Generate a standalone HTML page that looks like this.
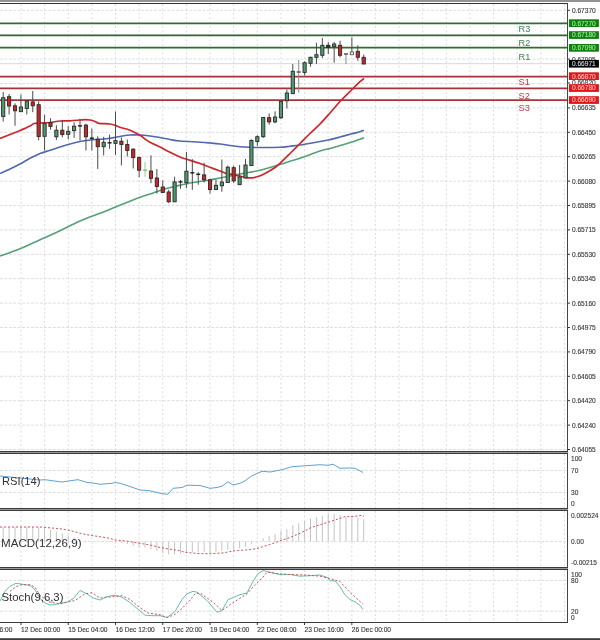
<!DOCTYPE html><html><head><meta charset="utf-8"><style>html,body{margin:0;padding:0;background:#fff;width:600px;height:640px;overflow:hidden}svg{display:block;will-change:transform;filter:blur(0.3px)}text{font-family:"Liberation Sans",sans-serif}</style></head><body>
<svg width="600" height="640" viewBox="0 0 600 640">
<rect x="0" y="0" width="600" height="640" fill="#fff"/>
<rect x="0" y="0" width="600" height="2" fill="#949494"/>
<rect x="0" y="3" width="568" height="1" fill="#333"/>
<g stroke="#dcdcdc" stroke-width="1" stroke-dasharray="2,2.4"><line x1="21.00" y1="4" x2="21.00" y2="451"/><line x1="21.00" y1="454" x2="21.00" y2="508"/><line x1="21.00" y1="511" x2="21.00" y2="567"/><line x1="21.00" y1="570" x2="21.00" y2="622"/><line x1="44.63" y1="4" x2="44.63" y2="451"/><line x1="44.63" y1="454" x2="44.63" y2="508"/><line x1="44.63" y1="511" x2="44.63" y2="567"/><line x1="44.63" y1="570" x2="44.63" y2="622"/><line x1="68.26" y1="4" x2="68.26" y2="451"/><line x1="68.26" y1="454" x2="68.26" y2="508"/><line x1="68.26" y1="511" x2="68.26" y2="567"/><line x1="68.26" y1="570" x2="68.26" y2="622"/><line x1="91.89" y1="4" x2="91.89" y2="451"/><line x1="91.89" y1="454" x2="91.89" y2="508"/><line x1="91.89" y1="511" x2="91.89" y2="567"/><line x1="91.89" y1="570" x2="91.89" y2="622"/><line x1="115.52" y1="4" x2="115.52" y2="451"/><line x1="115.52" y1="454" x2="115.52" y2="508"/><line x1="115.52" y1="511" x2="115.52" y2="567"/><line x1="115.52" y1="570" x2="115.52" y2="622"/><line x1="139.15" y1="4" x2="139.15" y2="451"/><line x1="139.15" y1="454" x2="139.15" y2="508"/><line x1="139.15" y1="511" x2="139.15" y2="567"/><line x1="139.15" y1="570" x2="139.15" y2="622"/><line x1="162.78" y1="4" x2="162.78" y2="451"/><line x1="162.78" y1="454" x2="162.78" y2="508"/><line x1="162.78" y1="511" x2="162.78" y2="567"/><line x1="162.78" y1="570" x2="162.78" y2="622"/><line x1="186.41" y1="4" x2="186.41" y2="451"/><line x1="186.41" y1="454" x2="186.41" y2="508"/><line x1="186.41" y1="511" x2="186.41" y2="567"/><line x1="186.41" y1="570" x2="186.41" y2="622"/><line x1="210.04" y1="4" x2="210.04" y2="451"/><line x1="210.04" y1="454" x2="210.04" y2="508"/><line x1="210.04" y1="511" x2="210.04" y2="567"/><line x1="210.04" y1="570" x2="210.04" y2="622"/><line x1="233.67" y1="4" x2="233.67" y2="451"/><line x1="233.67" y1="454" x2="233.67" y2="508"/><line x1="233.67" y1="511" x2="233.67" y2="567"/><line x1="233.67" y1="570" x2="233.67" y2="622"/><line x1="257.30" y1="4" x2="257.30" y2="451"/><line x1="257.30" y1="454" x2="257.30" y2="508"/><line x1="257.30" y1="511" x2="257.30" y2="567"/><line x1="257.30" y1="570" x2="257.30" y2="622"/><line x1="280.93" y1="4" x2="280.93" y2="451"/><line x1="280.93" y1="454" x2="280.93" y2="508"/><line x1="280.93" y1="511" x2="280.93" y2="567"/><line x1="280.93" y1="570" x2="280.93" y2="622"/><line x1="304.56" y1="4" x2="304.56" y2="451"/><line x1="304.56" y1="454" x2="304.56" y2="508"/><line x1="304.56" y1="511" x2="304.56" y2="567"/><line x1="304.56" y1="570" x2="304.56" y2="622"/><line x1="328.19" y1="4" x2="328.19" y2="451"/><line x1="328.19" y1="454" x2="328.19" y2="508"/><line x1="328.19" y1="511" x2="328.19" y2="567"/><line x1="328.19" y1="570" x2="328.19" y2="622"/><line x1="351.82" y1="4" x2="351.82" y2="451"/><line x1="351.82" y1="454" x2="351.82" y2="508"/><line x1="351.82" y1="511" x2="351.82" y2="567"/><line x1="351.82" y1="570" x2="351.82" y2="622"/><line x1="375.45" y1="4" x2="375.45" y2="451"/><line x1="375.45" y1="454" x2="375.45" y2="508"/><line x1="375.45" y1="511" x2="375.45" y2="567"/><line x1="375.45" y1="570" x2="375.45" y2="622"/><line x1="399.08" y1="4" x2="399.08" y2="451"/><line x1="399.08" y1="454" x2="399.08" y2="508"/><line x1="399.08" y1="511" x2="399.08" y2="567"/><line x1="399.08" y1="570" x2="399.08" y2="622"/><line x1="422.71" y1="4" x2="422.71" y2="451"/><line x1="422.71" y1="454" x2="422.71" y2="508"/><line x1="422.71" y1="511" x2="422.71" y2="567"/><line x1="422.71" y1="570" x2="422.71" y2="622"/><line x1="446.34" y1="4" x2="446.34" y2="451"/><line x1="446.34" y1="454" x2="446.34" y2="508"/><line x1="446.34" y1="511" x2="446.34" y2="567"/><line x1="446.34" y1="570" x2="446.34" y2="622"/><line x1="469.97" y1="4" x2="469.97" y2="451"/><line x1="469.97" y1="454" x2="469.97" y2="508"/><line x1="469.97" y1="511" x2="469.97" y2="567"/><line x1="469.97" y1="570" x2="469.97" y2="622"/><line x1="493.60" y1="4" x2="493.60" y2="451"/><line x1="493.60" y1="454" x2="493.60" y2="508"/><line x1="493.60" y1="511" x2="493.60" y2="567"/><line x1="493.60" y1="570" x2="493.60" y2="622"/><line x1="517.23" y1="4" x2="517.23" y2="451"/><line x1="517.23" y1="454" x2="517.23" y2="508"/><line x1="517.23" y1="511" x2="517.23" y2="567"/><line x1="517.23" y1="570" x2="517.23" y2="622"/><line x1="540.86" y1="4" x2="540.86" y2="451"/><line x1="540.86" y1="454" x2="540.86" y2="508"/><line x1="540.86" y1="511" x2="540.86" y2="567"/><line x1="540.86" y1="570" x2="540.86" y2="622"/><line x1="564.49" y1="4" x2="564.49" y2="451"/><line x1="564.49" y1="454" x2="564.49" y2="508"/><line x1="564.49" y1="511" x2="564.49" y2="567"/><line x1="564.49" y1="570" x2="564.49" y2="622"/></g>
<g stroke="#dedede" stroke-width="1" stroke-dasharray="3,1.4"><line x1="0" y1="10.30" x2="567" y2="10.30"/><line x1="0" y1="34.70" x2="567" y2="34.70"/><line x1="0" y1="59.10" x2="567" y2="59.10"/><line x1="0" y1="83.50" x2="567" y2="83.50"/><line x1="0" y1="107.90" x2="567" y2="107.90"/><line x1="0" y1="132.30" x2="567" y2="132.30"/><line x1="0" y1="156.70" x2="567" y2="156.70"/><line x1="0" y1="181.10" x2="567" y2="181.10"/><line x1="0" y1="205.50" x2="567" y2="205.50"/><line x1="0" y1="229.90" x2="567" y2="229.90"/><line x1="0" y1="254.30" x2="567" y2="254.30"/><line x1="0" y1="278.70" x2="567" y2="278.70"/><line x1="0" y1="303.10" x2="567" y2="303.10"/><line x1="0" y1="327.50" x2="567" y2="327.50"/><line x1="0" y1="351.90" x2="567" y2="351.90"/><line x1="0" y1="376.30" x2="567" y2="376.30"/><line x1="0" y1="400.70" x2="567" y2="400.70"/><line x1="0" y1="425.10" x2="567" y2="425.10"/><line x1="0" y1="449.50" x2="567" y2="449.50"/><line x1="0" y1="470.5" x2="567" y2="470.5"/><line x1="0" y1="492.5" x2="567" y2="492.5"/><line x1="0" y1="541.6" x2="567" y2="541.6"/><line x1="0" y1="580.5" x2="567" y2="580.5"/><line x1="0" y1="611.2" x2="567" y2="611.2"/></g>
<line x1="0" y1="63.7" x2="567" y2="63.7" stroke="#d8d8d8" stroke-width="1"/>
<line x1="0" y1="23.4" x2="567" y2="23.4" stroke="#2e6e2e" stroke-width="1.8"/>
<line x1="0" y1="35.3" x2="567" y2="35.3" stroke="#2e6e2e" stroke-width="1.8"/>
<line x1="0" y1="47.6" x2="567" y2="47.6" stroke="#2e6e2e" stroke-width="1.8"/>
<line x1="0" y1="76.7" x2="567" y2="76.7" stroke="#a8323a" stroke-width="1.8"/>
<line x1="0" y1="88.3" x2="567" y2="88.3" stroke="#a8323a" stroke-width="1.8"/>
<line x1="0" y1="100.2" x2="567" y2="100.2" stroke="#a8323a" stroke-width="1.8"/>
<path fill="none" stroke="#55a077" stroke-width="1.6" d="M0.00,256.00 C3.33,254.78 12.67,251.70 20.00,248.70 C27.33,245.70 37.33,241.00 44.00,238.00 C50.67,235.00 54.00,233.53 60.00,230.70 C66.00,227.87 73.33,223.90 80.00,221.00 C86.67,218.10 94.17,215.58 100.00,213.30 C105.83,211.02 108.33,209.97 115.00,207.30 C121.67,204.63 134.17,199.52 140.00,197.30 C145.83,195.08 146.17,195.30 150.00,194.00 C153.83,192.70 158.50,190.83 163.00,189.50 C167.50,188.17 172.50,187.08 177.00,186.00 C181.50,184.92 186.17,183.75 190.00,183.00 C193.83,182.25 196.67,182.00 200.00,181.50 C203.33,181.00 206.67,180.58 210.00,180.00 C213.33,179.42 216.67,178.67 220.00,178.00 C223.33,177.33 226.67,176.67 230.00,176.00 C233.33,175.33 236.67,174.63 240.00,174.00 C243.33,173.37 246.67,172.83 250.00,172.20 C253.33,171.57 256.67,170.98 260.00,170.20 C263.33,169.42 266.67,168.45 270.00,167.50 C273.33,166.55 276.67,165.55 280.00,164.50 C283.33,163.45 286.67,162.23 290.00,161.20 C293.33,160.17 295.00,160.00 300.00,158.30 C305.00,156.60 315.00,152.63 320.00,151.00 C325.00,149.37 326.67,149.43 330.00,148.50 C333.33,147.57 336.33,146.47 340.00,145.40 C343.67,144.33 348.67,143.13 352.00,142.10 C355.33,141.07 358.00,139.90 360.00,139.20 C362.00,138.50 363.33,138.12 364.00,137.90"/>
<path fill="none" stroke="#4f68b0" stroke-width="1.6" d="M0.00,173.50 C1.67,172.75 6.67,170.58 10.00,169.00 C13.33,167.42 16.67,165.78 20.00,164.00 C23.33,162.22 26.67,160.05 30.00,158.30 C33.33,156.55 36.67,154.83 40.00,153.50 C43.33,152.17 46.67,151.38 50.00,150.30 C53.33,149.22 56.67,148.05 60.00,147.00 C63.33,145.95 66.67,144.92 70.00,144.00 C73.33,143.08 76.67,142.17 80.00,141.50 C83.33,140.83 86.67,140.37 90.00,140.00 C93.33,139.63 96.67,139.58 100.00,139.30 C103.33,139.02 106.67,138.77 110.00,138.30 C113.33,137.83 116.67,137.05 120.00,136.50 C123.33,135.95 126.67,135.25 130.00,135.00 C133.33,134.75 136.67,134.83 140.00,135.00 C143.33,135.17 146.67,135.58 150.00,136.00 C153.33,136.42 156.67,136.92 160.00,137.50 C163.33,138.08 166.67,138.92 170.00,139.50 C173.33,140.08 175.00,140.55 180.00,141.00 C185.00,141.45 195.00,141.87 200.00,142.20 C205.00,142.53 206.67,142.70 210.00,143.00 C213.33,143.30 216.67,143.58 220.00,144.00 C223.33,144.42 226.67,145.05 230.00,145.50 C233.33,145.95 236.67,146.40 240.00,146.70 C243.33,147.00 246.67,147.17 250.00,147.30 C253.33,147.43 255.00,147.50 260.00,147.50 C265.00,147.50 275.00,147.52 280.00,147.30 C285.00,147.08 286.67,146.58 290.00,146.20 C293.33,145.82 295.00,145.78 300.00,145.00 C305.00,144.22 315.33,142.33 320.00,141.50 C324.67,140.67 324.67,140.75 328.00,140.00 C331.33,139.25 336.00,138.03 340.00,137.00 C344.00,135.97 348.67,134.68 352.00,133.80 C355.33,132.92 358.00,132.27 360.00,131.70 C362.00,131.13 363.33,130.62 364.00,130.40"/>
<path fill="none" stroke="#cc262c" stroke-width="1.7" d="M0.00,138.50 C1.67,137.83 6.67,135.83 10.00,134.50 C13.33,133.17 16.67,131.92 20.00,130.50 C23.33,129.08 27.67,127.17 30.00,126.00 C32.33,124.83 32.33,124.00 34.00,123.50 C35.67,123.00 37.33,123.17 40.00,123.00 C42.67,122.83 46.67,122.83 50.00,122.50 C53.33,122.17 56.67,121.28 60.00,121.00 C63.33,120.72 66.67,120.97 70.00,120.80 C73.33,120.63 77.50,120.20 80.00,120.00 C82.50,119.80 83.33,119.60 85.00,119.60 C86.67,119.60 88.33,119.68 90.00,120.00 C91.67,120.32 93.50,120.95 95.00,121.50 C96.50,122.05 96.50,122.88 99.00,123.30 C101.50,123.72 107.33,123.67 110.00,124.00 C112.67,124.33 113.33,124.75 115.00,125.30 C116.67,125.85 117.50,126.48 120.00,127.30 C122.50,128.12 126.67,128.87 130.00,130.20 C133.33,131.53 137.50,133.83 140.00,135.30 C142.50,136.77 143.33,137.83 145.00,139.00 C146.67,140.17 147.50,140.97 150.00,142.30 C152.50,143.63 156.67,145.33 160.00,147.00 C163.33,148.67 166.67,150.63 170.00,152.30 C173.33,153.97 177.33,155.88 180.00,157.00 C182.67,158.12 182.67,157.92 186.00,159.00 C189.33,160.08 196.00,162.12 200.00,163.50 C204.00,164.88 206.67,166.05 210.00,167.30 C213.33,168.55 217.50,170.05 220.00,171.00 C222.50,171.95 223.00,172.43 225.00,173.00 C227.00,173.57 229.50,173.87 232.00,174.40 C234.50,174.93 237.50,175.65 240.00,176.20 C242.50,176.75 245.00,177.43 247.00,177.70 C249.00,177.97 250.17,178.00 252.00,177.80 C253.83,177.60 255.83,177.22 258.00,176.50 C260.17,175.78 262.17,175.00 265.00,173.50 C267.83,172.00 272.50,169.20 275.00,167.50 C277.50,165.80 277.50,165.63 280.00,163.30 C282.50,160.97 286.67,156.80 290.00,153.50 C293.33,150.20 296.67,146.83 300.00,143.50 C303.33,140.17 306.67,136.75 310.00,133.50 C313.33,130.25 316.67,127.42 320.00,124.00 C323.33,120.58 326.67,116.75 330.00,113.00 C333.33,109.25 336.33,105.42 340.00,101.50 C343.67,97.58 348.67,92.80 352.00,89.50 C355.33,86.20 358.00,83.53 360.00,81.70 C362.00,79.87 363.33,79.03 364.00,78.50"/>
<g><line x1="3.20" y1="92" x2="3.20" y2="121.5" stroke="#4a4a4a" stroke-width="1"/><rect x="1.60" y="97.7" width="3.2" height="18.70" fill="#4e9a6e" stroke="#2a2a2a" stroke-width="0.9"/><line x1="9.11" y1="93.9" x2="9.11" y2="114.5" stroke="#4a4a4a" stroke-width="1"/><rect x="7.51" y="96.7" width="3.2" height="9.30" fill="#cc2424" stroke="#2a2a2a" stroke-width="0.9"/><line x1="15.02" y1="103.3" x2="15.02" y2="125.8" stroke="#4a4a4a" stroke-width="1"/><rect x="13.42" y="105.8" width="3.2" height="5.00" fill="#cc2424" stroke="#2a2a2a" stroke-width="0.9"/><line x1="20.93" y1="94.4" x2="20.93" y2="111.7" stroke="#4a4a4a" stroke-width="1"/><rect x="19.33" y="107" width="3.2" height="4.70" fill="#4e9a6e" stroke="#2a2a2a" stroke-width="0.9"/><line x1="26.84" y1="100.5" x2="26.84" y2="114.5" stroke="#4a4a4a" stroke-width="1"/><rect x="25.24" y="101" width="3.2" height="7.40" fill="#4e9a6e" stroke="#2a2a2a" stroke-width="0.9"/><line x1="32.75" y1="91" x2="32.75" y2="112.2" stroke="#4a4a4a" stroke-width="1"/><rect x="31.15" y="101.9" width="3.2" height="3.90" fill="#cc2424" stroke="#2a2a2a" stroke-width="0.9"/><line x1="38.66" y1="101.4" x2="38.66" y2="140.3" stroke="#4a4a4a" stroke-width="1"/><rect x="37.06" y="104.7" width="3.2" height="31.80" fill="#cc2424" stroke="#2a2a2a" stroke-width="0.9"/><line x1="44.57" y1="114.9" x2="44.57" y2="150.5" stroke="#4a4a4a" stroke-width="1"/><rect x="42.97" y="123.7" width="3.2" height="12.60" fill="#4e9a6e" stroke="#2a2a2a" stroke-width="0.9"/><line x1="50.48" y1="118.2" x2="50.48" y2="129.7" stroke="#4a4a4a" stroke-width="1"/><rect x="48.88" y="122.6" width="3.2" height="3.80" fill="#cc2424" stroke="#2a2a2a" stroke-width="0.9"/><line x1="56.39" y1="125.3" x2="56.39" y2="140" stroke="#4a4a4a" stroke-width="1"/><rect x="54.79" y="130.2" width="3.2" height="6.60" fill="#4e9a6e" stroke="#2a2a2a" stroke-width="0.9"/><line x1="62.30" y1="119.8" x2="62.30" y2="137.4" stroke="#4a4a4a" stroke-width="1"/><rect x="60.70" y="130.2" width="3.2" height="4.40" fill="#cc2424" stroke="#2a2a2a" stroke-width="0.9"/><line x1="68.21" y1="125.9" x2="68.21" y2="139.5" stroke="#4a4a4a" stroke-width="1"/><rect x="66.61" y="131.3" width="3.2" height="3.00" fill="#4e9a6e" stroke="#2a2a2a" stroke-width="0.9"/><line x1="74.12" y1="122.3" x2="74.12" y2="137.9" stroke="#4a4a4a" stroke-width="1"/><rect x="72.52" y="126.2" width="3.2" height="4.40" fill="#4e9a6e" stroke="#2a2a2a" stroke-width="0.9"/><line x1="80.03" y1="118.75" x2="80.03" y2="140.6" stroke="#4a4a4a" stroke-width="1"/><line x1="78.03" y1="125.9" x2="82.03" y2="125.9" stroke="#222" stroke-width="1.5"/><line x1="85.94" y1="123.7" x2="85.94" y2="150.5" stroke="#4a4a4a" stroke-width="1"/><rect x="84.34" y="125.1" width="3.2" height="11.70" fill="#cc2424" stroke="#2a2a2a" stroke-width="0.9"/><line x1="91.85" y1="128.6" x2="91.85" y2="150.5" stroke="#4a4a4a" stroke-width="1"/><line x1="89.85" y1="138.2" x2="93.85" y2="138.2" stroke="#222" stroke-width="1.5"/><line x1="97.76" y1="136.3" x2="97.76" y2="169" stroke="#4a4a4a" stroke-width="1"/><rect x="96.16" y="139.2" width="3.2" height="7.50" fill="#cc2424" stroke="#2a2a2a" stroke-width="0.9"/><line x1="103.67" y1="136.8" x2="103.67" y2="155.4" stroke="#4a4a4a" stroke-width="1"/><rect x="102.07" y="142.3" width="3.2" height="4.40" fill="#4e9a6e" stroke="#2a2a2a" stroke-width="0.9"/><line x1="109.58" y1="134.6" x2="109.58" y2="148.8" stroke="#4a4a4a" stroke-width="1"/><line x1="107.58" y1="142.8" x2="111.58" y2="142.8" stroke="#222" stroke-width="1.5"/><line x1="115.49" y1="111.6" x2="115.49" y2="154.9" stroke="#4a4a4a" stroke-width="1"/><rect x="113.89" y="140.6" width="3.2" height="2.80" fill="#4e9a6e" stroke="#2a2a2a" stroke-width="0.9"/><line x1="121.40" y1="137.4" x2="121.40" y2="165.3" stroke="#4a4a4a" stroke-width="1"/><rect x="119.80" y="141.2" width="3.2" height="3.30" fill="#cc2424" stroke="#2a2a2a" stroke-width="0.9"/><line x1="127.31" y1="139.5" x2="127.31" y2="156.5" stroke="#4a4a4a" stroke-width="1"/><rect x="125.71" y="144.5" width="3.2" height="6.00" fill="#cc2424" stroke="#2a2a2a" stroke-width="0.9"/><line x1="133.22" y1="148.3" x2="133.22" y2="168.5" stroke="#4a4a4a" stroke-width="1"/><rect x="131.62" y="149.2" width="3.2" height="8.40" fill="#cc2424" stroke="#2a2a2a" stroke-width="0.9"/><line x1="139.13" y1="156.5" x2="139.13" y2="177.3" stroke="#4a4a4a" stroke-width="1"/><rect x="137.53" y="157.6" width="3.2" height="12.60" fill="#cc2424" stroke="#2a2a2a" stroke-width="0.9"/><line x1="145.04" y1="162" x2="145.04" y2="176.7" stroke="#8ad08a" stroke-width="1"/><line x1="143.04" y1="170.2" x2="147.04" y2="170.2" stroke="#7acc7a" stroke-width="1.5"/><line x1="150.95" y1="155.3" x2="150.95" y2="183.2" stroke="#4a4a4a" stroke-width="1"/><rect x="149.35" y="171" width="3.2" height="7.30" fill="#cc2424" stroke="#2a2a2a" stroke-width="0.9"/><line x1="156.86" y1="169" x2="156.86" y2="193.6" stroke="#4a4a4a" stroke-width="1"/><rect x="155.26" y="178" width="3.2" height="8.50" fill="#cc2424" stroke="#2a2a2a" stroke-width="0.9"/><line x1="162.77" y1="180.3" x2="162.77" y2="192.5" stroke="#4a4a4a" stroke-width="1"/><rect x="161.17" y="187" width="3.2" height="5.50" fill="#cc2424" stroke="#2a2a2a" stroke-width="0.9"/><line x1="168.68" y1="189.8" x2="168.68" y2="202.9" stroke="#4a4a4a" stroke-width="1"/><rect x="167.08" y="192" width="3.2" height="9.80" fill="#cc2424" stroke="#2a2a2a" stroke-width="0.9"/><line x1="174.59" y1="176.7" x2="174.59" y2="201.8" stroke="#4a4a4a" stroke-width="1"/><rect x="172.99" y="181.9" width="3.2" height="19.90" fill="#4e9a6e" stroke="#2a2a2a" stroke-width="0.9"/><line x1="180.50" y1="180" x2="180.50" y2="188.7" stroke="#4a4a4a" stroke-width="1"/><line x1="178.50" y1="181.9" x2="182.50" y2="181.9" stroke="#222" stroke-width="1.5"/><line x1="186.41" y1="152" x2="186.41" y2="188.1" stroke="#4a4a4a" stroke-width="1"/><rect x="184.81" y="171.2" width="3.2" height="11.50" fill="#4e9a6e" stroke="#2a2a2a" stroke-width="0.9"/><line x1="192.32" y1="159.1" x2="192.32" y2="189.8" stroke="#4a4a4a" stroke-width="1"/><line x1="190.32" y1="172.8" x2="194.32" y2="172.8" stroke="#222" stroke-width="1.5"/><line x1="198.23" y1="172.1" x2="198.23" y2="184.7" stroke="#4a4a4a" stroke-width="1"/><line x1="196.23" y1="174.3" x2="200.23" y2="174.3" stroke="#222" stroke-width="1.5"/><line x1="204.14" y1="162.8" x2="204.14" y2="182.5" stroke="#4a4a4a" stroke-width="1"/><rect x="202.54" y="174.9" width="3.2" height="4.90" fill="#cc2424" stroke="#2a2a2a" stroke-width="0.9"/><line x1="210.05" y1="178.7" x2="210.05" y2="193.5" stroke="#4a4a4a" stroke-width="1"/><rect x="208.45" y="179.8" width="3.2" height="9.80" fill="#cc2424" stroke="#2a2a2a" stroke-width="0.9"/><line x1="215.96" y1="179.8" x2="215.96" y2="189.6" stroke="#4a4a4a" stroke-width="1"/><rect x="214.36" y="185.3" width="3.2" height="4.30" fill="#4e9a6e" stroke="#2a2a2a" stroke-width="0.9"/><line x1="221.87" y1="159.5" x2="221.87" y2="191.8" stroke="#4a4a4a" stroke-width="1"/><rect x="220.27" y="182" width="3.2" height="3.80" fill="#4e9a6e" stroke="#2a2a2a" stroke-width="0.9"/><line x1="227.78" y1="165.6" x2="227.78" y2="182.5" stroke="#4a4a4a" stroke-width="1"/><rect x="226.18" y="167.2" width="3.2" height="15.30" fill="#4e9a6e" stroke="#2a2a2a" stroke-width="0.9"/><line x1="233.69" y1="165.6" x2="233.69" y2="183" stroke="#4a4a4a" stroke-width="1"/><rect x="232.09" y="167.7" width="3.2" height="13.20" fill="#cc2424" stroke="#2a2a2a" stroke-width="0.9"/><line x1="239.60" y1="165" x2="239.60" y2="184.7" stroke="#4a4a4a" stroke-width="1"/><rect x="238.00" y="177" width="3.2" height="7.70" fill="#4e9a6e" stroke="#2a2a2a" stroke-width="0.9"/><line x1="245.51" y1="159" x2="245.51" y2="178" stroke="#4a4a4a" stroke-width="1"/><rect x="243.91" y="165" width="3.2" height="13.00" fill="#4e9a6e" stroke="#2a2a2a" stroke-width="0.9"/><line x1="251.42" y1="139.3" x2="251.42" y2="165.6" stroke="#4a4a4a" stroke-width="1"/><rect x="249.82" y="140.4" width="3.2" height="25.20" fill="#4e9a6e" stroke="#2a2a2a" stroke-width="0.9"/><line x1="257.33" y1="135.2" x2="257.33" y2="145.8" stroke="#4a4a4a" stroke-width="1"/><rect x="255.73" y="136.7" width="3.2" height="4.90" fill="#4e9a6e" stroke="#2a2a2a" stroke-width="0.9"/><line x1="263.24" y1="117" x2="263.24" y2="138" stroke="#4a4a4a" stroke-width="1"/><rect x="261.64" y="117.4" width="3.2" height="19.30" fill="#4e9a6e" stroke="#2a2a2a" stroke-width="0.9"/><line x1="269.15" y1="113.4" x2="269.15" y2="124.7" stroke="#4a4a4a" stroke-width="1"/><rect x="267.55" y="117.7" width="3.2" height="4.20" fill="#cc2424" stroke="#2a2a2a" stroke-width="0.9"/><line x1="275.06" y1="111.3" x2="275.06" y2="123.3" stroke="#4a4a4a" stroke-width="1"/><rect x="273.46" y="117" width="3.2" height="4.90" fill="#4e9a6e" stroke="#2a2a2a" stroke-width="0.9"/><line x1="280.97" y1="100.8" x2="280.97" y2="119" stroke="#4a4a4a" stroke-width="1"/><rect x="279.37" y="101.2" width="3.2" height="16.50" fill="#4e9a6e" stroke="#2a2a2a" stroke-width="0.9"/><line x1="286.88" y1="89.5" x2="286.88" y2="108.5" stroke="#4a4a4a" stroke-width="1"/><rect x="285.28" y="93" width="3.2" height="7.80" fill="#4e9a6e" stroke="#2a2a2a" stroke-width="0.9"/><line x1="292.79" y1="64" x2="292.79" y2="93.8" stroke="#4a4a4a" stroke-width="1"/><rect x="291.19" y="71.3" width="3.2" height="22.40" fill="#4e9a6e" stroke="#2a2a2a" stroke-width="0.9"/><line x1="298.70" y1="60" x2="298.70" y2="92.7" stroke="#8a8a8a" stroke-width="1"/><line x1="296.70" y1="72" x2="300.70" y2="72" stroke="#555" stroke-width="1.5"/><line x1="304.61" y1="61.3" x2="304.61" y2="75.3" stroke="#4a4a4a" stroke-width="1"/><rect x="303.01" y="62.7" width="3.2" height="9.70" fill="#4e9a6e" stroke="#2a2a2a" stroke-width="0.9"/><line x1="310.52" y1="56.7" x2="310.52" y2="66.7" stroke="#4a4a4a" stroke-width="1"/><rect x="308.92" y="57.3" width="3.2" height="6.00" fill="#4e9a6e" stroke="#2a2a2a" stroke-width="0.9"/><line x1="316.43" y1="42.7" x2="316.43" y2="64" stroke="#4a4a4a" stroke-width="1"/><rect x="314.83" y="54.7" width="3.2" height="2.60" fill="#4e9a6e" stroke="#2a2a2a" stroke-width="0.9"/><line x1="322.34" y1="38" x2="322.34" y2="58" stroke="#4a4a4a" stroke-width="1"/><rect x="320.74" y="45.3" width="3.2" height="10.00" fill="#4e9a6e" stroke="#2a2a2a" stroke-width="0.9"/><line x1="328.25" y1="42" x2="328.25" y2="54" stroke="#4a4a4a" stroke-width="1"/><rect x="326.65" y="45.3" width="3.2" height="2.00" fill="#333" stroke="#222" stroke-width="0.9"/><line x1="334.16" y1="42" x2="334.16" y2="62.7" stroke="#4a4a4a" stroke-width="1"/><rect x="332.56" y="44" width="3.2" height="2.70" fill="#4e9a6e" stroke="#2a2a2a" stroke-width="0.9"/><line x1="340.07" y1="40.7" x2="340.07" y2="57.3" stroke="#4a4a4a" stroke-width="1"/><rect x="338.47" y="45.3" width="3.2" height="10.00" fill="#cc2424" stroke="#2a2a2a" stroke-width="0.9"/><line x1="345.98" y1="53.3" x2="345.98" y2="64" stroke="#8a8a8a" stroke-width="1"/><line x1="343.98" y1="54" x2="347.98" y2="54" stroke="#555" stroke-width="1.5"/><line x1="351.89" y1="37.3" x2="351.89" y2="54.7" stroke="#4a4a4a" stroke-width="1"/><rect x="350.29" y="52" width="3.2" height="2.70" fill="#fff" stroke="#555" stroke-width="0.9"/><line x1="357.80" y1="45.3" x2="357.80" y2="60.7" stroke="#4a4a4a" stroke-width="1"/><rect x="356.20" y="51.3" width="3.2" height="6.00" fill="#cc2424" stroke="#2a2a2a" stroke-width="0.9"/><line x1="363.71" y1="54.7" x2="363.71" y2="64" stroke="#4a4a4a" stroke-width="1"/><rect x="362.11" y="57.3" width="3.2" height="6.70" fill="#cc2424" stroke="#2a2a2a" stroke-width="0.9"/></g>
<line x1="567.5" y1="3" x2="567.5" y2="452" stroke="#444" stroke-width="1"/>
<rect x="0" y="451" width="568" height="3" fill="#9a9a9a"/>
<rect x="0" y="508" width="568" height="3" fill="#9a9a9a"/>
<rect x="0" y="567" width="568" height="3" fill="#9a9a9a"/>
<line x1="0" y1="451.5" x2="568" y2="451.5" stroke="#3a3a3a" stroke-width="1"/>
<line x1="0" y1="453.5" x2="568" y2="453.5" stroke="#3a3a3a" stroke-width="1"/>
<line x1="0" y1="508.5" x2="568" y2="508.5" stroke="#3a3a3a" stroke-width="1"/>
<line x1="0" y1="510.5" x2="568" y2="510.5" stroke="#3a3a3a" stroke-width="1"/>
<line x1="0" y1="567.5" x2="568" y2="567.5" stroke="#3a3a3a" stroke-width="1"/>
<line x1="0" y1="569.5" x2="568" y2="569.5" stroke="#3a3a3a" stroke-width="1"/>
<line x1="0" y1="622.5" x2="568" y2="622.5" stroke="#3a3a3a" stroke-width="1"/>
<line x1="567.5" y1="453.5" x2="567.5" y2="508.5" stroke="#444" stroke-width="1"/>
<line x1="567.5" y1="510.5" x2="567.5" y2="567.5" stroke="#444" stroke-width="1"/>
<line x1="567.5" y1="569.5" x2="567.5" y2="622.5" stroke="#444" stroke-width="1"/>
<polyline fill="none" stroke="#5fa3cf" stroke-width="1" points="0.0,476.0 40.0,480.0 45.0,479.7 53.0,480.8 62.0,482.0 70.0,480.8 78.0,479.7 87.0,482.5 95.0,483.3 100.0,484.3 112.0,483.3 115.0,482.5 120.0,483.3 130.0,486.5 140.0,490.0 150.0,490.8 162.0,493.7 168.0,494.2 173.0,488.3 182.0,487.5 187.0,485.2 200.0,485.5 210.0,488.3 217.0,487.5 222.0,486.2 228.0,481.7 233.0,485.0 240.0,483.3 245.0,480.8 252.0,475.8 262.0,471.3 270.0,472.0 282.0,469.7 292.0,466.7 305.0,465.8 320.0,464.7 328.0,465.3 333.0,464.2 340.0,468.3 350.0,468.0 355.0,468.3 363.0,472.5"/>
<g stroke="#c4c4c4" stroke-width="1"><line x1="3.20" y1="541.5" x2="3.20" y2="527.00"/><line x1="9.11" y1="541.5" x2="9.11" y2="527.00"/><line x1="15.02" y1="541.5" x2="15.02" y2="527.00"/><line x1="20.93" y1="541.5" x2="20.93" y2="527.00"/><line x1="26.84" y1="541.5" x2="26.84" y2="527.00"/><line x1="32.75" y1="541.5" x2="32.75" y2="527.00"/><line x1="38.66" y1="541.5" x2="38.66" y2="527.00"/><line x1="44.57" y1="541.5" x2="44.57" y2="527.00"/><line x1="50.48" y1="541.5" x2="50.48" y2="529.74"/><line x1="56.39" y1="541.5" x2="56.39" y2="531.80"/><line x1="62.30" y1="541.5" x2="62.30" y2="533.33"/><line x1="68.21" y1="541.5" x2="68.21" y2="535.36"/><line x1="74.12" y1="541.5" x2="74.12" y2="537.44"/><line x1="80.03" y1="541.5" x2="80.03" y2="539.51"/><line x1="85.94" y1="541.5" x2="85.94" y2="540.57"/><line x1="91.85" y1="541.5" x2="91.85" y2="541.34"/><line x1="97.76" y1="541.5" x2="97.76" y2="541.46"/><line x1="103.67" y1="541.5" x2="103.67" y2="541.57"/><line x1="109.58" y1="541.5" x2="109.58" y2="542.01"/><line x1="115.49" y1="541.5" x2="115.49" y2="542.54"/><line x1="121.40" y1="541.5" x2="121.40" y2="543.07"/><line x1="127.31" y1="541.5" x2="127.31" y2="544.09"/><line x1="133.22" y1="541.5" x2="133.22" y2="545.84"/><line x1="139.13" y1="541.5" x2="139.13" y2="547.01"/><line x1="145.04" y1="541.5" x2="145.04" y2="547.51"/><line x1="150.95" y1="541.5" x2="150.95" y2="548.99"/><line x1="156.86" y1="541.5" x2="156.86" y2="550.76"/><line x1="162.77" y1="541.5" x2="162.77" y2="553.40"/><line x1="168.68" y1="541.5" x2="168.68" y2="554.45"/><line x1="174.59" y1="541.5" x2="174.59" y2="554.69"/><line x1="180.50" y1="541.5" x2="180.50" y2="553.60"/><line x1="186.41" y1="541.5" x2="186.41" y2="552.60"/><line x1="192.32" y1="541.5" x2="192.32" y2="552.50"/><line x1="198.23" y1="541.5" x2="198.23" y2="552.47"/><line x1="204.14" y1="541.5" x2="204.14" y2="551.74"/><line x1="210.05" y1="541.5" x2="210.05" y2="553.29"/><line x1="215.96" y1="541.5" x2="215.96" y2="551.71"/><line x1="221.87" y1="541.5" x2="221.87" y2="550.82"/><line x1="227.78" y1="541.5" x2="227.78" y2="550.03"/><line x1="233.69" y1="541.5" x2="233.69" y2="549.95"/><line x1="239.60" y1="541.5" x2="239.60" y2="548.27"/><line x1="245.51" y1="541.5" x2="245.51" y2="546.70"/><line x1="251.42" y1="541.5" x2="251.42" y2="544.00"/><line x1="257.33" y1="541.5" x2="257.33" y2="541.13"/><line x1="263.24" y1="541.5" x2="263.24" y2="538.20"/><line x1="269.15" y1="541.5" x2="269.15" y2="535.75"/><line x1="275.06" y1="541.5" x2="275.06" y2="533.97"/><line x1="280.97" y1="541.5" x2="280.97" y2="530.82"/><line x1="286.88" y1="541.5" x2="286.88" y2="529.23"/><line x1="292.79" y1="541.5" x2="292.79" y2="525.15"/><line x1="298.70" y1="541.5" x2="298.70" y2="523.38"/><line x1="304.61" y1="541.5" x2="304.61" y2="520.96"/><line x1="310.52" y1="541.5" x2="310.52" y2="518.22"/><line x1="316.43" y1="541.5" x2="316.43" y2="517.01"/><line x1="322.34" y1="541.5" x2="322.34" y2="515.83"/><line x1="328.25" y1="541.5" x2="328.25" y2="513.40"/><line x1="334.16" y1="541.5" x2="334.16" y2="514.15"/><line x1="340.07" y1="541.5" x2="340.07" y2="515.02"/><line x1="345.98" y1="541.5" x2="345.98" y2="516.69"/><line x1="351.89" y1="541.5" x2="351.89" y2="516.31"/><line x1="357.80" y1="541.5" x2="357.80" y2="517.46"/><line x1="363.71" y1="541.5" x2="363.71" y2="519.12"/></g>
<polyline fill="none" stroke="#d05050" stroke-width="1" stroke-dasharray="2,2" points="0.0,527.0 40.0,527.0 60.0,528.7 70.0,530.5 80.0,533.3 90.0,535.3 100.0,536.7 110.0,538.3 115.0,540.0 125.0,540.8 135.0,542.5 140.0,543.3 150.0,545.0 160.0,547.5 170.0,549.2 180.0,550.8 185.0,552.3 200.0,553.7 210.0,553.7 222.0,553.0 235.0,550.8 250.0,549.7 258.0,548.3 265.0,546.0 270.0,544.5 280.0,540.8 290.0,537.5 300.0,533.3 305.0,530.8 310.0,528.0 320.0,524.7 330.0,521.7 340.0,518.3 345.0,516.7 355.0,516.3 362.0,515.3 364.0,516.3"/>
<polyline fill="none" stroke="#62bdb4" stroke-width="1" points="0.0,601.0 5.0,591.3 10.0,586.3 16.0,583.3 22.0,584.2 30.0,585.5 35.0,589.7 40.0,598.5 45.0,603.0 50.0,605.0 55.0,604.7 60.0,603.3 67.0,602.2 73.0,598.8 80.0,590.5 87.0,593.8 93.0,598.0 100.0,600.0 107.0,596.5 115.0,595.3 122.0,597.2 130.0,602.5 138.0,609.2 145.0,615.2 152.0,615.7 160.0,615.7 167.0,617.5 175.0,611.5 182.0,599.5 187.0,593.8 193.0,591.3 197.0,592.2 207.0,600.5 217.0,612.2 222.0,610.5 228.0,599.7 240.0,594.7 247.0,593.0 253.0,581.3 258.0,573.8 263.0,570.5 270.0,572.2 280.0,574.7 290.0,574.5 300.0,576.2 310.0,575.7 320.0,575.0 328.0,577.8 330.0,580.8 335.0,580.8 340.0,586.7 345.0,594.8 350.0,599.5 355.0,601.8 360.0,605.3 363.0,609.5"/>
<polyline fill="none" stroke="#d05050" stroke-width="1" stroke-dasharray="2,2" points="10.0,591.3 16.0,586.7 22.0,584.7 30.0,584.7 35.0,587.2 40.0,595.5 50.0,602.2 60.0,603.8 67.0,602.2 75.0,600.5 85.0,593.8 92.0,592.7 100.0,598.0 115.0,596.5 122.0,595.7 130.0,599.5 140.0,607.7 148.0,613.0 160.0,614.8 167.0,617.5 175.0,614.5 182.0,608.5 190.0,600.2 195.0,593.8 200.0,593.0 213.0,602.2 222.0,610.5 230.0,604.7 247.0,593.8 255.0,584.7 263.0,577.2 267.0,572.2 280.0,573.8 290.0,574.5 305.0,575.0 320.0,576.2 330.0,578.5 340.0,581.5 350.0,592.5 363.0,604.2"/>
<g font-size="11.4" fill="#333">
<text x="2" y="485" textLength="38.5" lengthAdjust="spacingAndGlyphs">RSI(14)</text>
<text x="1" y="546.5" textLength="80.5" lengthAdjust="spacingAndGlyphs">MACD(12,26,9)</text>
<text x="1.5" y="600.5" textLength="62" lengthAdjust="spacingAndGlyphs">Stoch(9,6,3)</text>
</g>
<g font-size="9.2">
<text x="518.5" y="32" fill="#3f7f4f">R3</text>
<text x="518.5" y="46.3" fill="#3f7f4f">R2</text>
<text x="518.5" y="60.3" fill="#3f7f4f">R1</text>
<text x="518.5" y="85.3" fill="#b04048">S1</text>
<text x="518.5" y="98.6" fill="#b04048">S2</text>
<text x="518.5" y="111" fill="#b04048">S3</text>
</g>
<g stroke="#333" stroke-width="1"><line x1="568" y1="10.30" x2="570" y2="10.30"/><line x1="568" y1="59.10" x2="570" y2="59.10"/><line x1="568" y1="107.90" x2="570" y2="107.90"/><line x1="568" y1="132.30" x2="570" y2="132.30"/><line x1="568" y1="156.70" x2="570" y2="156.70"/><line x1="568" y1="181.10" x2="570" y2="181.10"/><line x1="568" y1="205.50" x2="570" y2="205.50"/><line x1="568" y1="229.90" x2="570" y2="229.90"/><line x1="568" y1="254.30" x2="570" y2="254.30"/><line x1="568" y1="278.70" x2="570" y2="278.70"/><line x1="568" y1="303.10" x2="570" y2="303.10"/><line x1="568" y1="327.50" x2="570" y2="327.50"/><line x1="568" y1="351.90" x2="570" y2="351.90"/><line x1="568" y1="376.30" x2="570" y2="376.30"/><line x1="568" y1="400.70" x2="570" y2="400.70"/><line x1="568" y1="425.10" x2="570" y2="425.10"/><line x1="568" y1="449.50" x2="570" y2="449.50"/><line x1="568" y1="83" x2="570" y2="83"/></g>
<g font-size="6.6" fill="#383838" stroke="#383838" stroke-width="0.12"><text x="571.9" y="12.70">0.67370</text><text x="571.9" y="61.50">0.67005</text><text x="571.9" y="110.30">0.66635</text><text x="571.9" y="134.70">0.66450</text><text x="571.9" y="159.10">0.66265</text><text x="571.9" y="183.50">0.66080</text><text x="571.9" y="207.90">0.65895</text><text x="571.9" y="232.30">0.65715</text><text x="571.9" y="256.70">0.65530</text><text x="571.9" y="281.10">0.65345</text><text x="571.9" y="305.50">0.65160</text><text x="571.9" y="329.90">0.64975</text><text x="571.9" y="354.30">0.64790</text><text x="571.9" y="378.70">0.64605</text><text x="571.9" y="403.10">0.64420</text><text x="571.9" y="427.50">0.64240</text><text x="571.9" y="451.90">0.64055</text><text x="571.9" y="85.4">0.66820</text></g>
<rect x="568.9" y="19.3" width="30" height="7.7" fill="#0f800f"/>
<text x="571.9" y="25.55" font-size="6.6" fill="#98ec98" stroke="#98ec98" stroke-width="0.15">0.67270</text>
<rect x="568.9" y="31.2" width="30" height="7.7" fill="#0f800f"/>
<text x="571.9" y="37.45" font-size="6.6" fill="#98ec98" stroke="#98ec98" stroke-width="0.15">0.67180</text>
<rect x="568.9" y="44.0" width="30" height="7.7" fill="#0f800f"/>
<text x="571.9" y="50.25" font-size="6.6" fill="#98ec98" stroke="#98ec98" stroke-width="0.15">0.67090</text>
<rect x="568.9" y="59.9" width="30" height="7.7" fill="#000"/>
<text x="571.9" y="66.15" font-size="6.6" fill="#c8d0d8" stroke="#c8d0d8" stroke-width="0.15">0.66971</text>
<rect x="568.9" y="72.3" width="30" height="7.7" fill="#e21616"/>
<text x="571.9" y="78.55" font-size="6.6" fill="#ffbcbc" stroke="#ffbcbc" stroke-width="0.15">0.66870</text>
<rect x="568.9" y="84.2" width="30" height="7.7" fill="#e21616"/>
<text x="571.9" y="90.45" font-size="6.6" fill="#ffbcbc" stroke="#ffbcbc" stroke-width="0.15">0.66780</text>
<rect x="568.9" y="96.2" width="30" height="7.7" fill="#e21616"/>
<text x="571.9" y="102.45" font-size="6.6" fill="#ffbcbc" stroke="#ffbcbc" stroke-width="0.15">0.66690</text>
<g font-size="6.6" fill="#383838" stroke="#383838" stroke-width="0.12"><text x="571" y="460.8">100</text><text x="571" y="472.9">70</text><text x="571" y="494.8">30</text><text x="571" y="506">0</text><text x="571" y="518">0.002524</text><text x="571" y="544.2">0.00</text><text x="571" y="565.3">-0.00215</text><text x="571" y="577">100</text><text x="571" y="582.9">80</text><text x="571" y="613.6">20</text><text x="571" y="619.8">0</text></g>
<g stroke="#333" stroke-width="1"><line x1="21.00" y1="622" x2="21.00" y2="625"/><line x1="68.26" y1="622" x2="68.26" y2="625"/><line x1="115.52" y1="622" x2="115.52" y2="625"/><line x1="162.78" y1="622" x2="162.78" y2="625"/><line x1="210.04" y1="622" x2="210.04" y2="625"/><line x1="257.30" y1="622" x2="257.30" y2="625"/><line x1="304.56" y1="622" x2="304.56" y2="625"/><line x1="351.82" y1="622" x2="351.82" y2="625"/></g>
<g font-size="6.6" fill="#383838" stroke="#383838" stroke-width="0.12"><text x="21.00" y="631.8">12 Dec 00:00</text><text x="68.26" y="631.8">15 Dec 04:00</text><text x="115.52" y="631.8">16 Dec 12:00</text><text x="162.78" y="631.8">17 Dec 20:00</text><text x="210.04" y="631.8">19 Dec 04:00</text><text x="257.30" y="631.8">22 Dec 08:00</text><text x="304.56" y="631.8">23 Dec 16:00</text><text x="351.82" y="631.8">26 Dec 00:00</text><text x="-0.5" y="631.8">6:00</text></g>
<rect x="0" y="638.2" width="600" height="1.8" fill="#3c3c3c"/>
</svg></body></html>
